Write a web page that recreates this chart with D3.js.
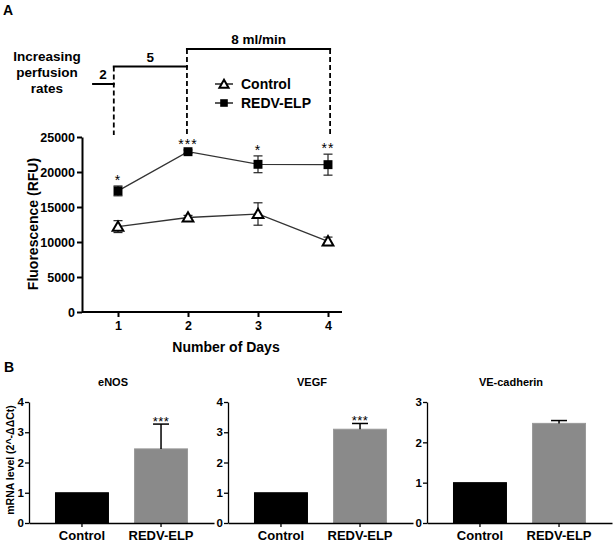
<!DOCTYPE html>
<html>
<head>
<meta charset="utf-8">
<script src="https://cdn.jsdelivr.net/npm/d3@7"></script>
<style>
  html, body { margin: 0; padding: 0; background: #fff; }
  svg { display: block; }
  text { font-family: "Liberation Sans", Arial, sans-serif; font-weight: bold; fill: #000; }
</style>
</head>
<body>
<svg id="chart" width="615" height="543"></svg>
<script>
// ---------------- DATA ----------------
// Panel A: fluorescence over days
const days = [1, 2, 3, 4];
const controlMean = [12200, 13500, 14000, 10100];
const controlErr  = [850, 300, 1600, 600];
const redvMean    = [17300, 22900, 21100, 21050];
const redvErr     = [700, 250, 1200, 1500];
const redvStars   = ["*", "***", "*", "**"];
const yTicksA = [0, 5000, 10000, 15000, 20000, 25000];

// Perfusion schedule (rate in ml/min, start/end in days)
const perfusionRates  = [2, 5, 8];
const perfusionLabels = ["2", "5", "8 ml/min"];
const perfusionStart  = [0.63, 0.94, 1.985];
const perfusionEnd    = [0.94, 1.985, 4.03];

// Panel B: mRNA levels
const groups = ["Control", "REDV-ELP"];
const genes = ["eNOS", "VEGF", "VE-cadherin"];
const geneMeans = [[1.0, 2.45], [1.0, 3.1], [1.0, 2.47]];
const geneErrs  = [[0, 0.82], [0, 0.19], [0, 0.07]];
const geneStars = [["", "***"], ["", "***"], ["", ""]];
const geneYMax  = [4, 4, 3];
const barColors = ["#000000", "#8a8a8a"];

// ---------------- DRAW ----------------
const svg = d3.select("#chart");

// Panel letters
svg.append("text").attr("x", 3).attr("y", 15).style("font-size", "14px").text("A");
svg.append("text").attr("x", 4).attr("y", 372).style("font-size", "14px").text("B");

// ---- Panel A ----
const x = d3.scaleLinear().domain([0.5, 4.2]).range([83, 342]);
const y = d3.scaleLinear().domain([0, 25000]).range([312, 137]);
const rateY = d3.scaleLinear().domain([2, 8]).range([84, 49]);

const gA = svg.append("g");

// Y axis
const yAxis = gA.append("g").attr("transform", "translate(82,0)")
  .call(d3.axisLeft(y).tickValues(yTicksA).tickSize(5).tickSizeOuter(0).tickFormat(d3.format("d")));
yAxis.selectAll("text").style("font-size", "12.5px").attr("x", -7);
yAxis.selectAll("line, path").attr("stroke", "#000").attr("stroke-width", 2);

// X axis
const xAxis = gA.append("g").attr("transform", "translate(0,312)")
  .call(d3.axisBottom(x).tickValues(days).tickSize(5).tickSizeOuter(0).tickFormat(d3.format("d")));
xAxis.selectAll("text").style("font-size", "12.5px").attr("y", 9);
xAxis.selectAll("line, path").attr("stroke", "#000").attr("stroke-width", 2);
xAxis.select("path.domain").attr("d", `M${x.range()[0] - 1},0H${x.range()[1]}`);

// Axis titles
gA.append("text").attr("x", 226).attr("y", 352).attr("text-anchor", "middle")
  .style("font-size", "14px").text("Number of Days");
gA.append("text").attr("transform", "translate(38,224) rotate(-90)").attr("text-anchor", "middle")
  .style("font-size", "14px").text("Fluorescence (RFU)");

// Perfusion schematic
const pText = gA.append("text").attr("text-anchor", "middle").style("font-size", "13.5px");
["Increasing", "perfusion", "rates"].forEach((t, i) => {
  pText.append("tspan").attr("x", 47).attr("y", 61 + i * 16).text(t);
});
perfusionRates.forEach((r, i) => {
  const x0 = x(perfusionStart[i]), x1 = x(perfusionEnd[i]), yy = rateY(r);
  gA.append("line").attr("x1", x0 - (i === 0 ? 0 : 1)).attr("x2", x1 + 1).attr("y1", yy).attr("y2", yy)
    .attr("stroke", "#000").attr("stroke-width", 2);
  gA.append("text").attr("x", (x0 + x1) / 2).attr("y", yy - 5).attr("text-anchor", "middle")
    .style("font-size", "13.5px").text(perfusionLabels[i]);
  if (i > 0) {
    gA.append("line").attr("x1", x0).attr("x2", x0).attr("y1", yy).attr("y2", y(25000) - 2)
      .attr("stroke", "#000").attr("stroke-width", 1.8).attr("stroke-dasharray", "5,3");
  }
  if (i === perfusionRates.length - 1) {
    gA.append("line").attr("x1", x1).attr("x2", x1).attr("y1", yy).attr("y2", y(25000) - 2)
      .attr("stroke", "#000").attr("stroke-width", 1.8).attr("stroke-dasharray", "5,3");
  }
});

// Series
const series = [
  { name: "Control", mean: controlMean, err: controlErr, marker: "triangle" },
  { name: "REDV-ELP", mean: redvMean, err: redvErr, marker: "square" }
];
const line = d3.line().x(d => x(d[0])).y(d => y(d[1]));
const triSym = d3.symbol().type(d3.symbolTriangle).size(50);
const sqSym = d3.symbol().type(d3.symbolSquare).size(80);

function drawMarker(g, type, cx, cy, scale) {
  const s = scale || 1;
  if (type === "triangle") {
    g.append("path").attr("d", triSym()).attr("transform", `translate(${cx},${cy + 1}) scale(${s})`)
      .attr("fill", "#fff").attr("stroke", "#000").attr("stroke-width", 2 / s);
  } else {
    g.append("path").attr("d", sqSym()).attr("transform", `translate(${cx},${cy}) scale(${s})`)
      .attr("fill", "#000");
  }
}

series.forEach(s => {
  const pts = days.map((d, i) => [d, s.mean[i]]);
  gA.append("path").attr("d", line(pts)).attr("fill", "none").attr("stroke", "#333").attr("stroke-width", 1.3);
  days.forEach((d, i) => {
    const cx = x(d), top = y(s.mean[i] + s.err[i]), bot = y(s.mean[i] - s.err[i]);
    gA.append("line").attr("x1", cx).attr("x2", cx).attr("y1", top).attr("y2", bot).attr("stroke", "#222").attr("stroke-width", 1.2);
    [top, bot].forEach(v => gA.append("line").attr("x1", cx - 4.5).attr("x2", cx + 4.5).attr("y1", v).attr("y2", v)
      .attr("stroke", "#222").attr("stroke-width", 1.2));
  });
  days.forEach((d, i) => drawMarker(gA, s.marker, x(d), y(s.mean[i])));
});

// Significance stars
days.forEach((d, i) => {
  gA.append("text").attr("x", x(d)).attr("y", y(redvMean[i] + redvErr[i]) - 1).attr("text-anchor", "middle")
    .style("font-size", "14px").style("font-weight", "normal").attr("letter-spacing", "1px").text(redvStars[i]);
});

// Legend
series.forEach((s, i) => {
  const ly = 84 + i * 19;
  gA.append("line").attr("x1", 215).attr("x2", 233).attr("y1", ly).attr("y2", ly).attr("stroke", "#000").attr("stroke-width", 1.3);
  drawMarker(gA, s.marker, 224, ly, 0.85);
  gA.append("text").attr("x", 241).attr("y", ly + 5).style("font-size", "14px").text(s.name);
});

// ---- Panel B ----
const panelLeft = [29, 228, 427];
const yB0 = 523, yBTop = 402;
genes.forEach((gene, gi) => {
  const left = panelLeft[gi];
  const g = svg.append("g");
  const yb = d3.scaleLinear().domain([0, geneYMax[gi]]).range([yB0, yBTop]);
  const xb = d3.scaleBand().domain(groups).range([left, left + 185]).paddingInner(0.33).paddingOuter(0.335);

  // bars
  groups.forEach((grp, k) => {
    const v = geneMeans[gi][k];
    g.append("rect").attr("x", xb(grp)).attr("y", yb(v)).attr("width", xb.bandwidth()).attr("height", yB0 - yb(v))
      .attr("fill", barColors[k]).attr("stroke", k === 0 ? "#000" : "#999").attr("stroke-width", 1);
    const e = geneErrs[gi][k];
    if (e > 0) {
      const cx = xb(grp) + xb.bandwidth() / 2;
      g.append("line").attr("x1", cx).attr("x2", cx).attr("y1", yb(v)).attr("y2", yb(v + e)).attr("stroke", "#000").attr("stroke-width", 1.5);
      g.append("line").attr("x1", cx - 8).attr("x2", cx + 8).attr("y1", yb(v + e)).attr("y2", yb(v + e)).attr("stroke", "#000").attr("stroke-width", 1.5);
    }
    if (geneStars[gi][k]) {
      g.append("text").attr("x", xb(grp) + xb.bandwidth() / 2).attr("y", yb(v + e) + 1.5).attr("text-anchor", "middle")
        .style("font-size", "13px").style("font-weight", "normal").attr("letter-spacing", "0.5px").text(geneStars[gi][k]);
    }
  });

  const ya = g.append("g").attr("transform", `translate(${left},0)`)
    .call(d3.axisLeft(yb).ticks(geneYMax[gi]).tickSize(4).tickSizeOuter(0).tickFormat(d3.format("d")));
  ya.selectAll("text").style("font-size", "11.5px").attr("x", -5);
  ya.selectAll("line, path").attr("stroke", "#000").attr("stroke-width", 1.3);

  const xa = g.append("g").attr("transform", `translate(0,${yB0})`)
    .call(d3.axisBottom(xb).tickSize(4).tickSizeOuter(0));
  xa.selectAll("text").style("font-size", "13px").attr("y", 8);
  xa.selectAll("line, path").attr("stroke", "#000").attr("stroke-width", 1.3);

  g.append("text").attr("x", left + 84).attr("y", 386).attr("text-anchor", "middle")
    .style("font-size", "11px").text(gene);
});

svg.append("text").attr("transform", "translate(14,460) rotate(-90)").attr("text-anchor", "middle")
  .style("font-size", "10.5px").text("mRNA level (2^-\u0394\u0394Ct)");
</script>
</body>
</html>
